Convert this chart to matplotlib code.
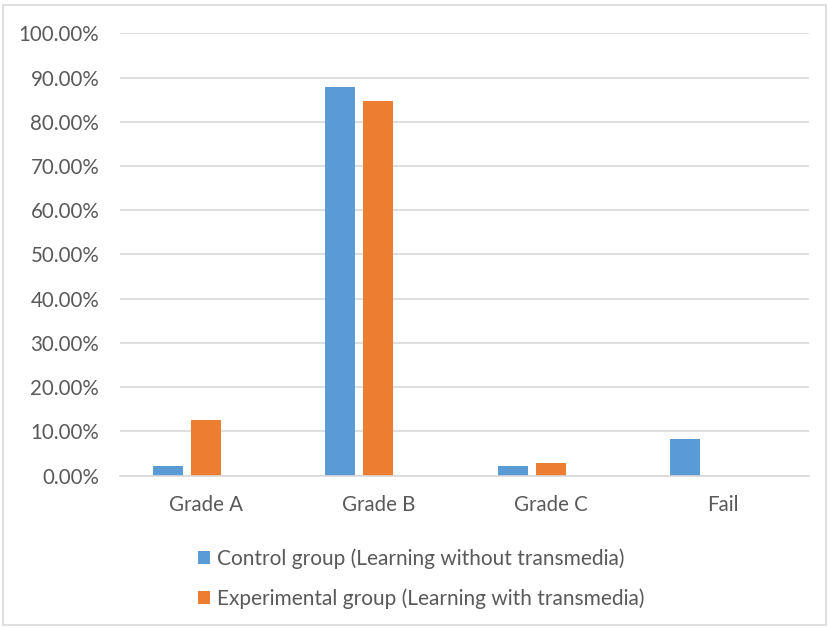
import numpy as np
import matplotlib
matplotlib.use("Agg")
import matplotlib.pyplot as plt
from matplotlib.patches import Rectangle
from matplotlib.ticker import PercentFormatter

# Grade distribution per group (percent of students)
categories = ["Grade A", "Grade B", "Grade C", "Fail"]
control = [2.04, 87.76, 2.04, 8.16]
experimental = [12.5, 84.6, 2.9, 0.0]
labels = ["Control group (Learning without transmedia)",
          "Experimental group (Learning with transmedia)"]

blue = "#5B9BD5"
orange = "#ED7D31"
grid_gray = "#D9D9D9"
text_gray = "#595959"

plt.rcParams["font.family"] = ["Lato", "DejaVu Sans"]

fig = plt.figure(figsize=(8.29, 6.28), dpi=100)
ax = fig.add_axes([0.1448, 0.2428, 0.8311, 0.7042])

x = np.arange(len(categories))
width = 0.174
b1 = ax.bar(x - 0.221, control, width, color=blue, label=labels[0])
b2 = ax.bar(x, experimental, width, color=orange, label=labels[1])

ax.set_xlim(-0.5, len(categories) - 0.5)
ax.set_ylim(0, 100)
ax.set_yticks(np.arange(0, 101, 10))
ax.yaxis.set_major_formatter(PercentFormatter(decimals=2))
ax.set_xticks(x)
ax.set_xticklabels(categories)

ax.grid(axis="y", color=grid_gray, linewidth=1.2)
ax.set_axisbelow(True)
for side in ["top", "right", "left"]:
    ax.spines[side].set_visible(False)
ax.spines["bottom"].set_color(grid_gray)
ax.spines["bottom"].set_linewidth(1.2)
ax.tick_params(axis="both", length=0, colors=text_gray, labelsize=14.8)
ax.tick_params(axis="y", pad=15)
ax.tick_params(axis="x", pad=14)

fig.legend(handles=[b1, b2], labels=labels, loc="upper left",
           bbox_to_anchor=(198 / 829, 1 - 548 / 628), frameon=False,
           fontsize=15, labelcolor=text_gray, handlelength=0.6,
           handleheight=0.6, handletextpad=0.3, labelspacing=0.95,
           borderpad=0, borderaxespad=0)

# light frame around the whole chart
fig.add_artist(Rectangle((3 / 829, 3 / 628), 823 / 829, 620 / 628,
                         transform=fig.transFigure, fill=False,
                         edgecolor=grid_gray, linewidth=1.2))

fig.savefig("out.png", dpi=100)
